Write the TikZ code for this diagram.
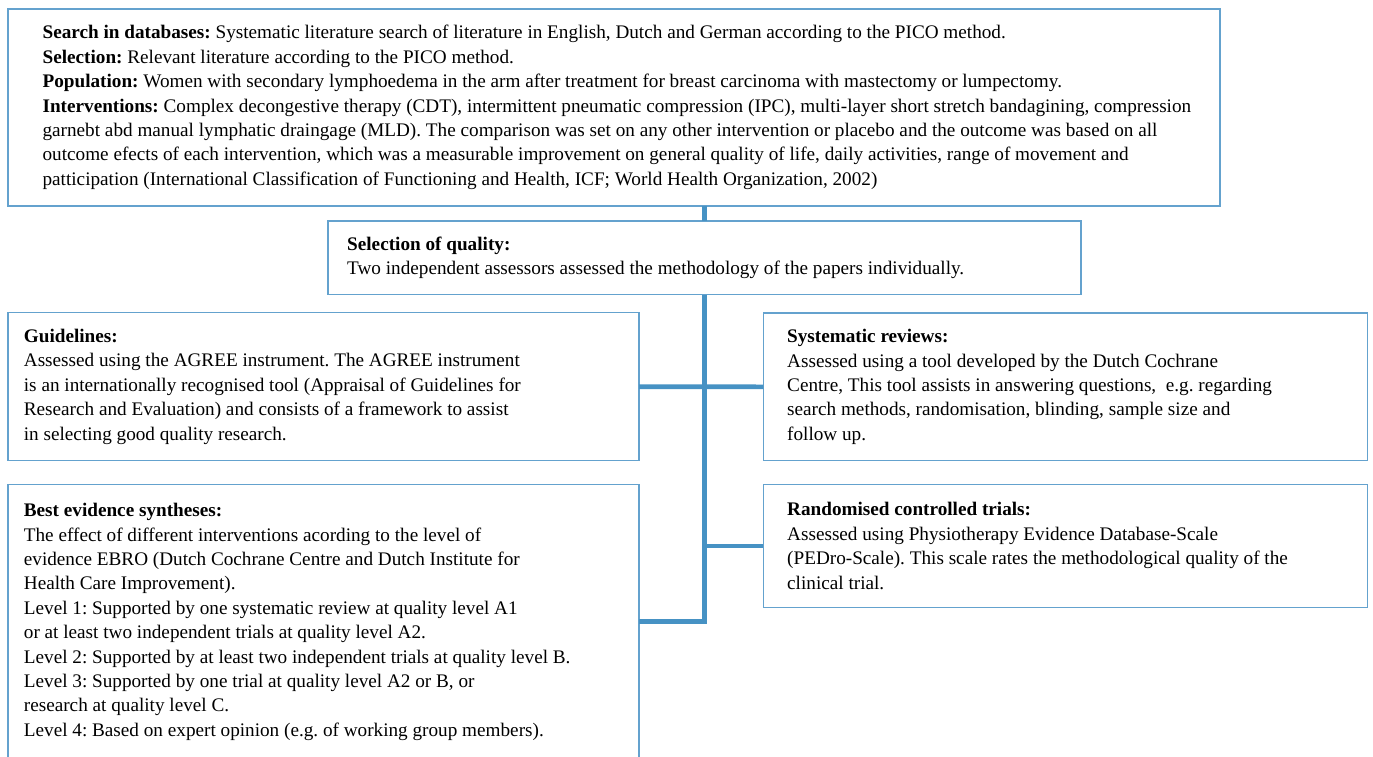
\documentclass[tikz,border=0pt]{standalone}
\usepackage{fontspec}
\setmainfont{Liberation Serif}
\frenchspacing
\definecolor{boxblue}{RGB}{100,162,206}
\definecolor{linkblue}{RGB}{70,146,196}
\begin{document}
\begin{tikzpicture}[x=1pt,y=-1pt,
  box/.style={draw=boxblue, line width=1.4pt, anchor=north west, inner sep=0pt, outer sep=0pt, fill=white},
  txt/.style={anchor=west, align=left, inner sep=0pt, font=\fontsize{19.2}{24.4}\selectfont},
  link/.style={draw=linkblue, line width=4.7pt}]
\clip (0,0) rectangle (1373,756);
\fill[white] (0,0) rectangle (1373,756);
% boxes
\node[box, minimum width=1212pt, minimum height=197pt] (top) at (8,9) {};
\node[box, minimum width=753pt, minimum height=73.5pt] (sel) at (328,221) {};
\node[box, minimum width=631pt, minimum height=148pt] (guide) at (8,312.7) {};
\node[box, minimum width=604.4pt, minimum height=147.7pt] (sys) at (763.3,313) {};
\node[box, minimum width=631pt, minimum height=275pt] (best) at (8,484.3) {};
\node[box, minimum width=604.4pt, minimum height=123.4pt] (rct) at (763.3,484.3) {};
% connectors
\draw[link] (top.south -| sel.north) -- (sel.north);
\draw[link] (sel.south) -- (sel.south |- best.east) -- (best.east);
\draw[link] (guide.east) -- (sys.west);
\draw[link] (sel.south |- rct.west) -- (rct.west);
% texts
\node[txt] (toptxt) at ([xshift=34.4pt]top.west) {\textbf{Search in databases:} Systematic literature search of literature in English, Dutch and German according to the PICO method.\\
\textbf{Selection:} Relevant literature according to the PICO method.\\
\textbf{Population:} Women with secondary lymphoedema in the arm after treatment for breast carcinoma with mastectomy or lumpectomy.\\
\textbf{Interventions:} Complex decongestive therapy (CDT), intermittent pneumatic compression (IPC), multi-layer short stretch bandagining, compression\\
garnebt abd manual lymphatic draingage (MLD). The comparison was set on any other intervention or placebo and the outcome was based on all\\
outcome efects of each intervention, which was a measurable improvement on general quality of life, daily activities, range of movement and\\
patticipation (International Classification of Functioning and Health, ICF; World Health Organization, 2002)};
\node[txt] (seltxt) at ([xshift=19pt]sel.west) {\textbf{Selection of quality:}\\
Two independent assessors assessed the methodology of the papers individually.};
\node[txt] (guidetxt) at ([xshift=15.7pt]guide.west) {\textbf{Guidelines:}\\
Assessed using the AGREE instrument. The AGREE instrument\\
is an internationally recognised tool (Appraisal of Guidelines for\\
Research and Evaluation) and consists of a framework to assist\\
in selecting good quality research.};
\node[txt] (systxt) at ([xshift=23.7pt]sys.west) {\textbf{Systematic reviews:}\\
Assessed using a tool developed by the Dutch Cochrane\\
Centre, This tool assists in answering questions,\ \ e.g. regarding\\
search methods, randomisation, blinding, sample size and\\
follow up.};
\node[txt] (besttxt) at ([xshift=15.7pt]best.west) {\textbf{Best evidence syntheses:}\\
The effect of different interventions acording to the level of\\
evidence EBRO (Dutch Cochrane Centre and Dutch Institute for\\
Health Care Improvement).\\
Level 1: Supported by one systematic review at quality level A1\\
or at least two independent trials at quality level A2.\\
Level 2: Supported by at least two independent trials at quality level B.\\
Level 3: Supported by one trial at quality level A2 or B, or\\
research at quality level C.\\
Level 4: Based on expert opinion (e.g. of working group members).};
\node[txt] (rcttxt) at ([xshift=23.7pt]rct.west) {\textbf{Randomised controlled trials:}\\
Assessed using Physiotherapy Evidence Database-Scale\\
(PEDro-Scale). This scale rates the methodological quality of the\\
clinical trial.};
\end{tikzpicture}
\end{document}
